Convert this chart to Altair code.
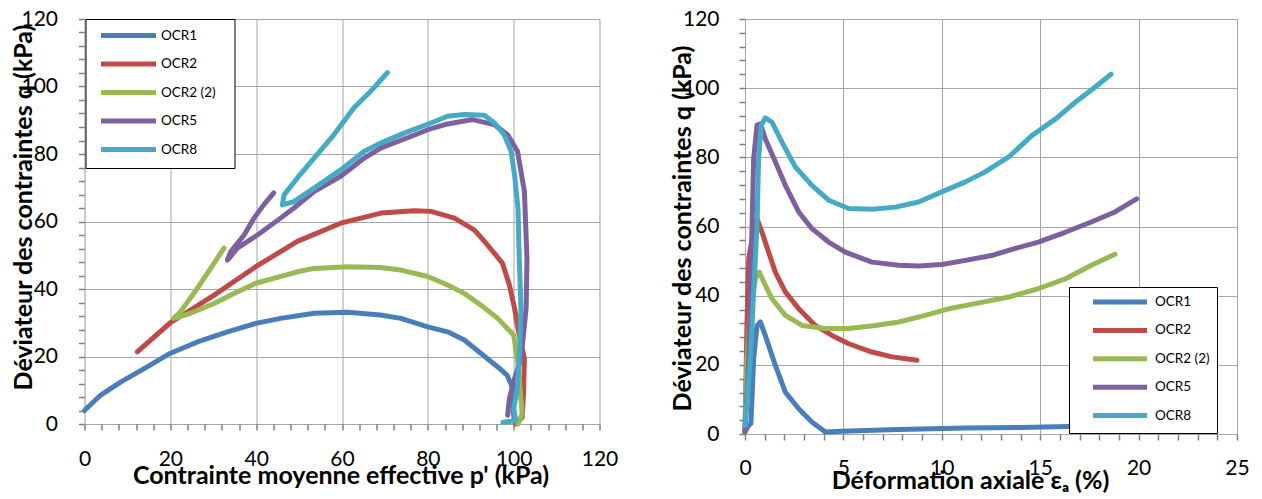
import altair as alt
import pandas as pd

series_names = ["OCR1", "OCR2", "OCR2 (2)", "OCR5", "OCR8"]
series_colors = ["#4A7EBB", "#BE4B48", "#98B954", "#7D60A0", "#46AAC5"]

# ---- Left panel: stress paths (p', q) ----
p_ocr1 = [100.2, 99.8, 100.0, 99.5, 98.5, 96.3, 92.4, 88.5, 84.6, 80.0, 73.7, 69.0, 61.3, 53.5, 45.7, 39.9, 33.3, 26.3, 19.9, 14.6, 8.4, 3.7, 0.0]
q_ocr1 = [0.6, 4.5, 8.5, 11.5, 14.4, 16.9, 20.9, 24.9, 27.3, 28.8, 31.3, 32.3, 33.1, 32.8, 31.3, 29.8, 27.3, 24.3, 20.9, 16.9, 12.4, 8.5, 4.0]

p_ocr2 = [100.5, 102.0, 102.3, 102.5, 101.3, 100.2, 99.0, 97.4, 95.5, 93.2, 90.8, 86.2, 80.7, 76.8, 69.1, 59.7, 49.6, 39.9, 30.2, 20.0, 12.3]
q_ocr2 = [0.0, 2.0, 9.5, 19.4, 26.3, 34.3, 41.2, 47.6, 50.6, 54.1, 57.5, 61.0, 63.0, 63.2, 62.5, 59.5, 54.1, 46.6, 38.2, 30.0, 21.4]

p_ocr2b = [101.0, 102.0, 101.5, 101.0, 100.0, 96.3, 92.4, 88.5, 84.6, 80.0, 73.7, 69.0, 61.3, 53.5, 49.6, 39.9, 34.1, 30.2, 24.7, 20.8, 22.4, 26.3, 29.4, 32.5]
q_ocr2b = [0.0, 3.0, 10.0, 18.0, 26.3, 31.3, 35.2, 38.7, 41.2, 43.7, 45.6, 46.4, 46.6, 46.1, 45.1, 41.7, 38.2, 35.7, 32.8, 31.3, 33.3, 40.2, 46.1, 52.1]

p_ocr5 = [98.6, 99.0, 100.2, 101.7, 102.9, 103.1, 102.5, 100.9, 98.6, 95.5, 90.4, 84.6, 80.0, 75.3, 69.1, 65.2, 59.7, 53.5, 48.8, 45.7, 40.3, 35.6, 33.7, 33.3, 34.1, 37.2, 39.5, 41.8, 44.1]
q_ocr5 = [2.6, 7.5, 13.4, 19.4, 34.3, 49.1, 68.9, 80.8, 85.7, 88.7, 90.2, 88.9, 87.2, 84.8, 81.8, 78.8, 73.4, 68.9, 64.0, 61.0, 56.0, 52.1, 49.1, 48.6, 51.1, 56.0, 61.0, 65.0, 68.5]

p_ocr8 = [97.5, 100.5, 100.0, 100.8, 101.3, 101.7, 101.3, 101.0, 100.2, 99.4, 97.8, 95.5, 93.2, 88.5, 84.6, 80.7, 74.5, 69.1, 65.2, 59.7, 53.5, 48.8, 46.1, 46.5, 49.6, 53.5, 58.1, 62.8, 66.7, 70.6]
q_ocr8 = [0.5, 1.0, 4.6, 10.0, 19.4, 34.3, 49.1, 64.0, 73.9, 80.8, 85.7, 89.2, 91.5, 91.7, 91.2, 89.2, 86.2, 83.3, 80.8, 75.3, 69.9, 65.9, 64.9, 67.9, 72.9, 78.8, 85.7, 93.7, 98.6, 104.1]

# ---- Right panel: q vs axial strain ----
e_ocr1 = [0.0, 0.19, 0.3, 0.44, 0.61, 0.78, 1.03, 1.54, 2.05, 2.73, 3.4, 4.08, 4.9, 7.8, 11.2, 14.0, 16.4, 17.5]
qe_ocr1 = [0.6, 2.5, 3.0, 21.8, 31.4, 32.4, 28.5, 19.9, 12.1, 7.3, 3.5, 0.6, 0.8, 1.3, 1.7, 1.9, 2.2, 2.3]

e_ocr2 = [0.0, 0.1, 0.19, 0.36, 0.61, 0.86, 1.2, 1.54, 2.05, 2.73, 3.57, 4.42, 5.27, 6.45, 7.47, 8.74]
qe_ocr2 = [0.6, 31.4, 50.7, 56.5, 62.3, 58.4, 52.6, 46.8, 41.1, 36.2, 31.4, 28.5, 26.1, 23.7, 22.3, 21.3]

e_ocr2b = [0.0, 0.1, 0.27, 0.53, 0.73, 0.95, 1.37, 2.05, 2.9, 4.08, 5.27, 6.62, 7.81, 9.16, 10.35, 11.7, 13.4, 14.9, 16.3, 17.6, 18.8]
qe_ocr2b = [0.6, 21.8, 36.2, 44.9, 46.8, 44.0, 39.1, 34.3, 31.4, 30.5, 30.5, 31.4, 32.4, 34.3, 36.2, 37.7, 39.6, 42.0, 44.9, 48.8, 52.0]

e_ocr5 = [0.0, 0.19, 0.36, 0.44, 0.61, 0.78, 1.03, 1.54, 2.05, 2.73, 3.4, 4.25, 5.1, 6.45, 7.81, 8.82, 10.0, 11.2, 12.6, 13.7, 14.9, 16.3, 17.6, 18.8, 19.9]
qe_ocr5 = [0.6, 21.8, 60.3, 79.6, 89.3, 89.7, 85.4, 78.7, 71.9, 64.2, 59.4, 55.5, 52.6, 49.7, 48.8, 48.6, 49.0, 50.2, 51.7, 53.6, 55.5, 58.4, 61.3, 64.2, 68.0]

e_ocr8 = [0.0, 0.27, 0.44, 0.61, 0.69, 0.83, 1.03, 1.37, 1.88, 2.56, 3.4, 4.25, 5.27, 6.45, 7.64, 8.82, 10.0, 11.2, 12.2, 13.4, 14.6, 15.8, 16.8, 17.6, 18.6]
qe_ocr8 = [2.5, 21.8, 41.0, 60.3, 79.6, 89.3, 91.4, 90.2, 84.4, 77.2, 71.9, 67.6, 65.2, 65.0, 65.6, 67.1, 70.0, 72.9, 75.8, 80.1, 86.4, 91.2, 96.0, 99.5, 104.0]

left_x = [p_ocr1, p_ocr2, p_ocr2b, p_ocr5, p_ocr8]
left_y = [q_ocr1, q_ocr2, q_ocr2b, q_ocr5, q_ocr8]
right_x = [e_ocr1, e_ocr2, e_ocr2b, e_ocr5, e_ocr8]
right_y = [qe_ocr1, qe_ocr2, qe_ocr2b, qe_ocr5, qe_ocr8]


def build_df(xs, ys):
    rows = []
    for name, xv, yv in zip(series_names, xs, ys):
        for i, (a, b) in enumerate(zip(xv, yv)):
            rows.append({"series": name, "idx": i, "x": a, "y": b})
    return pd.DataFrame(rows)


df_left = build_df(left_x, left_y)
df_right = build_df(right_x, right_y)

FONT = "Lato, DejaVu Sans"
GRID = "#a6a6a6"
TICK = "#808080"
TITLE_SIZE = 25


def make_axis(values, major, title, label_pad, title_x, title_y, vertical):
    return alt.Axis(
        values=values,
        labelExpr=f"datum.value % {major} === 0 ? datum.label : ''",
        grid=True,
        gridColor=GRID,
        gridWidth=1,
        gridOpacity={"condition": {"test": f"datum.value % {major} === 0", "value": 1}, "value": 0},
        domain=False,
        ticks=True,
        tickColor=TICK,
        tickSize=6,
        tickWidth=1.5,
        labelFont=FONT,
        labelFontSize=21,
        labelColor="black",
        labelPadding=label_pad,
        labelOverlap=False,
        labelFlush=False,
        title=title,
        titleFont=FONT,
        titleFontSize=TITLE_SIZE,
        titleFontWeight="bold",
        titleColor="black",
        titleX=title_x,
        titleY=title_y,
        titleAlign="center",
        titleBaseline="middle",
        titleAngle=270 if vertical else 0,
    )


def make_legend(lx, ly, pad, sym_size, sym_offset, label_offset, row_pad, suffix):
    return alt.Legend(
        orient="none",
        legendX=lx,
        legendY=ly,
        title=None,
        symbolType="M0,0H10",
        symbolSize=sym_size,
        symbolStrokeWidth=5,
        symbolOffset=sym_offset,
        labelOffset=label_offset,
        rowPadding=row_pad,
        padding=pad,
        fillColor="white",
        strokeColor="black",
        labelFont=FONT,
        labelFontSize=13.5,
        labelColor="black",
        labelExpr="datum.label + '" + suffix + "'",
    )


color_scale = alt.Scale(domain=series_names, range=series_colors)

left = alt.Chart(df_left).mark_line(strokeWidth=5, strokeCap="round", strokeJoin="round").encode(
    x=alt.X("x:Q", scale=alt.Scale(domain=[0, 120], nice=False),
            axis=make_axis(list(range(0, 121, 4)), 20, "Contrainte moyenne effective p' (kPa)", 18, 256, 51, False)),
    y=alt.Y("y:Q", scale=alt.Scale(domain=[0, 120], nice=False),
            axis=make_axis(list(range(0, 121, 4)), 20, "Déviateur des contraintes q (kPa)", 21, -61, 188, True)),
    color=alt.Color("series:N", scale=color_scale, sort=series_names,
                    legend=make_legend(1, 0, 8.5, 121, -1, 52, 8.5, "\u2800")),
    order=alt.Order("idx:Q"),
).properties(width=515, height=405)

right = alt.Chart(df_right).mark_line(strokeWidth=5, strokeCap="round", strokeJoin="round").encode(
    x=alt.X("x:Q", scale=alt.Scale(domain=[0, 25], nice=False),
            axis=make_axis(list(range(0, 26, 1)), 5, "Déformation axiale εₐ (%)", 17.5, 225, 46, False)),
    y=alt.Y("y:Q", scale=alt.Scale(domain=[0, 120], nice=False),
            axis=make_axis(list(range(0, 121, 4)), 20, "Déviateur des contraintes q (kPa)", 20, -63, 209, True)),
    color=alt.Color("series:N", scale=color_scale, sort=series_names,
                    legend=make_legend(324, 268, 7, 117, 9, 54, 8.4, "\u00a0" * 9)),
    order=alt.Order("idx:Q"),
).properties(width=492, height=415)

chart = alt.hconcat(left, right, spacing=50.5).resolve_scale(color="independent").properties(
    padding={"left": 2.5, "top": -1, "right": 0, "bottom": 0}
).configure_view(stroke="black", strokeWidth=2).configure(background="white")

chart.save("out.html", embed_options={"renderer": "svg", "actions": False})
